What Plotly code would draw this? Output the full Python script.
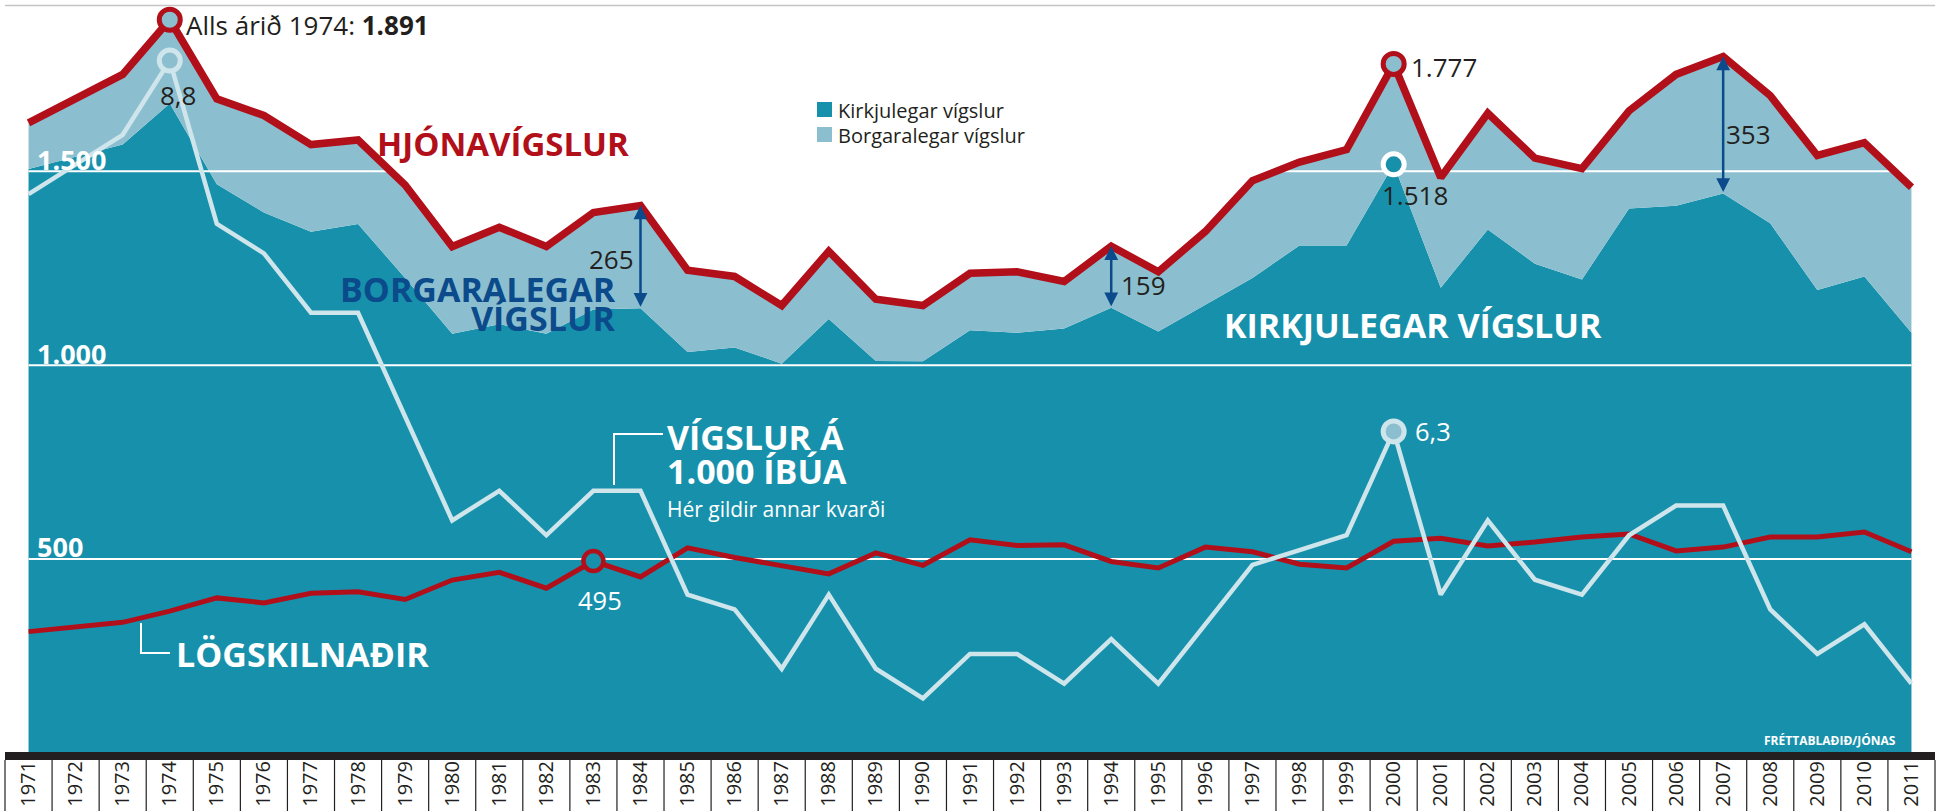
import plotly.graph_objects as go

# ---------------- data ----------------
years = list(range(1971, 2012))
year_labels = [str(y) for y in years]

# Hjónavígslur alls (total marriages)
hjonavigslur = [1625, 1687, 1750, 1891, 1687, 1644, 1569, 1581, 1465, 1306,
                1356, 1306, 1394, 1412, 1245, 1229, 1154, 1294, 1170, 1154,
                1237, 1241, 1216, 1307, 1241, 1345, 1476, 1524, 1556, 1777,
                1484, 1650, 1534, 1507, 1656, 1750, 1796, 1695, 1541, 1574,
                1459]
# Kirkjulegar vígslur (church marriages)
kirkjulegar = [1506, 1537, 1569, 1675, 1467, 1394, 1344, 1364, 1225, 1081,
               1106, 1081, 1144, 1147, 1034, 1046, 1004, 1119, 1011, 1010,
               1090, 1084, 1095, 1148, 1087, 1156, 1225, 1309, 1309, 1518,
               1200, 1350, 1262, 1221, 1404, 1411, 1443, 1366, 1194, 1229,
               1084]
# Lögskilnaðir (divorces)
logskilnadir = [313, 325, 337, 366, 400, 387, 412, 416, 396, 446,
                466, 425, 495, 454, 529, 504, 484, 462, 516, 484,
                550, 535, 537, 494, 477, 531, 519, 487, 477, 546,
                554, 534, 544, 557, 565, 521, 531, 557, 557, 570,
                519]
# Vígslur á 1.000 íbúa (marriages per 1,000 inhabitants, other scale)
vigslur_a_1000 = [7.9, 8.1, 8.3, 8.8, 7.7, 7.5, 7.1, 7.1, 6.4, 5.7,
                  5.9, 5.6, 5.9, 5.9, 5.2, 5.1, 4.7, 5.2, 4.7, 4.5,
                  4.8, 4.8, 4.6, 4.9, 4.6, 5.0, 5.4, 5.5, 5.6, 6.3,
                  5.2, 5.7, 5.3, 5.2, 5.6, 5.8, 5.8, 5.1, 4.8, 5.0,
                  4.6]

grid_values = [500, 1000, 1500]
grid_labels = ["500", "1.000", "1.500"]
gap_years = [1984, 1994, 2007]       # civil-marriage gaps marked with arrows
peak_years = [1974, 2000]            # highlighted peaks
divorce_mark_year = 1983

# ---------------- style ----------------
TEAL = "#1791ab"
LIGHT = "#8bbfcf"
RED = "#b10f19"
PALE = "#cfe5ec"
NAVY = "#0b4a8b"
DARK = "#231f20"
FONT = "Open Sans"
NARROW = "Liberation Sans Narrow, Open Sans"

W, H = 1953, 811
ML, MR, MT, MB = 5, 18, 5, 58
PW = W - ML - MR
PH = H - MT - MB
Y_RANGE = [0, 1929]
Y2_RANGE = [4.132, 9.175]


def xp(px):
    return (px - ML) / PW


def yp(py):
    return (H - MB - py) / PH


def idx(y):
    return years.index(y)


fig = go.Figure()

# stacked areas
fig.add_trace(go.Scatter(x=years, y=kirkjulegar, mode="lines",
                         line=dict(width=0, color=TEAL),
                         fill="tozeroy", fillcolor=TEAL))
fig.add_trace(go.Scatter(x=years, y=hjonavigslur, mode="lines",
                         line=dict(width=0, color=LIGHT),
                         fill="tonexty", fillcolor=LIGHT))

# white grid lines across the area
for v in grid_values:
    fig.add_trace(go.Scatter(x=[years[0], years[-1]], y=[v, v], mode="lines",
                             line=dict(color="white", width=2)))

# per-1000 line (own scale)
fig.add_trace(go.Scatter(x=years, y=vigslur_a_1000, yaxis="y2", mode="lines",
                         line=dict(color=PALE, width=4.5)))
# divorces
fig.add_trace(go.Scatter(x=years, y=logskilnadir, mode="lines",
                         line=dict(color=RED, width=5)))
# total marriages
fig.add_trace(go.Scatter(x=years, y=hjonavigslur, mode="lines",
                         line=dict(color=RED, width=7.5)))

# highlighted points
fig.add_trace(go.Scatter(x=peak_years,
                         y=[vigslur_a_1000[idx(y)] for y in peak_years],
                         yaxis="y2", mode="markers",
                         marker=dict(size=21, color=LIGHT,
                                     line=dict(color=PALE, width=5))))
fig.add_trace(go.Scatter(x=peak_years,
                         y=[hjonavigslur[idx(y)] for y in peak_years],
                         mode="markers",
                         marker=dict(size=21, color=LIGHT,
                                     line=dict(color=RED, width=5))))
fig.add_trace(go.Scatter(x=[2000], y=[kirkjulegar[idx(2000)]],
                         mode="markers",
                         marker=dict(size=21, color=TEAL,
                                     line=dict(color="white", width=5))))
fig.add_trace(go.Scatter(x=[divorce_mark_year],
                         y=[logskilnadir[idx(divorce_mark_year)]],
                         mode="markers",
                         marker=dict(size=20, color=TEAL,
                                     line=dict(color=RED, width=4.5))))

annotations = []


def label(text, px, py, size, color, anchor="left", bold=False):
    t = f"<b>{text}</b>" if bold else text
    annotations.append(dict(text=t, xref="paper", yref="paper",
                            x=xp(px), y=yp(py + 0.05 * size),
                            xanchor=anchor, yanchor="middle",
                            showarrow=False,
                            font=dict(family=FONT, size=size, color=color)))


label("Alls árið 1974: <b>1.891</b>", 184, 24, 26, DARK)
label("8,8", 178, 94, 26, DARK, anchor="center")
label("HJÓNAVÍGSLUR", 375, 142, 33, RED, bold=True)
label("BORGARALEGAR", 618, 287, 34, NAVY, anchor="right", bold=True)
label("VÍGSLUR", 618, 316, 34, NAVY, anchor="right", bold=True)
label("1.777", 1409, 66, 26, DARK)
label("1.518", 1380, 194, 26, DARK)
label("6,3", 1413, 430, 25.5, "white")
label("495", 576, 599, 25.5, "white")
label("VÍGSLUR Á", 665, 435, 34, "white", bold=True)
label("1.000 ÍBÚA", 665, 469, 34, "white", bold=True)
label("Hér gildir annar kvarði", 665, 508, 21, "white")
label("LÖGSKILNAÐIR", 174, 652, 34, "white", bold=True)
label("KIRKJULEGAR VÍGSLUR", 1222, 323, 34, "white", bold=True)
for gl, gy in zip(grid_labels, [545, 352, 158]):
    label(gl, 35, gy, 27, "white", bold=True)
label("FRÉTTABLAÐIÐ/JÓNAS", 1898, 740, 12, "white", anchor="right", bold=True)
label("Kirkjulegar vígslur", 836, 109, 20, DARK)
label("Borgaralegar vígslur", 836, 134, 20, DARK)

# gap arrows + their numbers
gap_text_pos = {1984: (587, 258), 1994: (1119, 284), 2007: (1724, 133)}
for gy in gap_years:
    i = idx(gy)
    annotations.append(dict(x=gy, y=hjonavigslur[i], ax=gy, ay=kirkjulegar[i],
                            xref="x", yref="y", axref="x", ayref="y",
                            text="", showarrow=True, arrowhead=2,
                            arrowside="end+start", arrowsize=1.1,
                            arrowwidth=2.5, arrowcolor=NAVY,
                            standoff=0, startstandoff=0))
    px, py = gap_text_pos[gy]
    label(str(hjonavigslur[i] - kirkjulegar[i]), px, py, 26, DARK)

shapes = []
# top rule
shapes.append(dict(type="line", xref="paper", yref="paper", x0=0, x1=1,
                   y0=yp(5.5), y1=yp(5.5), line=dict(color="#c4c4c4", width=1.5)))
# black axis bar
shapes.append(dict(type="rect", xref="paper", yref="paper", x0=0, x1=1,
                   y0=yp(760), y1=yp(752), fillcolor=DARK, line=dict(width=0),
                   layer="above"))
# year cell dividers
n = len(years)
for k in range(n + 1):
    shapes.append(dict(type="line", xref="paper", yref="paper",
                       x0=k / n, x1=k / n, y0=yp(811), y1=yp(760),
                       line=dict(color=DARK, width=1.2)))
# connectors
shapes.append(dict(type="path", xref="paper", yref="paper",
                   path=f"M {xp(614)},{yp(485)} L {xp(614)},{yp(434)} L {xp(663)},{yp(434)}",
                   line=dict(color="white", width=2), layer="above"))
shapes.append(dict(type="path", xref="paper", yref="paper",
                   path=f"M {xp(141)},{yp(623)} L {xp(141)},{yp(653)} L {xp(170)},{yp(653)}",
                   line=dict(color="white", width=2), layer="above"))
# legend swatches
shapes.append(dict(type="rect", xref="paper", yref="paper",
                   x0=xp(817), x1=xp(832), y0=yp(117), y1=yp(102),
                   fillcolor=TEAL, line=dict(width=0)))
shapes.append(dict(type="rect", xref="paper", yref="paper",
                   x0=xp(817), x1=xp(832), y0=yp(142), y1=yp(127),
                   fillcolor=LIGHT, line=dict(width=0)))

fig.update_layout(
    width=W, height=H,
    margin=dict(l=ML, r=MR, t=MT, b=MB, autoexpand=False),
    paper_bgcolor="white", plot_bgcolor="white",
    showlegend=False,
    font=dict(family=FONT, color=DARK),
    xaxis=dict(range=[years[0] - 0.5, years[-1] + 0.5], tickvals=years,
               ticktext=year_labels, tickangle=-90, ticks="",
               ticklabelstandoff=3, automargin=False,
               tickfont=dict(family=NARROW, size=20, color=DARK),
               showgrid=False, zeroline=False, showline=False, fixedrange=True),
    yaxis=dict(range=Y_RANGE, visible=False, fixedrange=True, automargin=False),
    yaxis2=dict(range=Y2_RANGE, overlaying="y", visible=False,
                fixedrange=True, automargin=False),
    annotations=annotations,
    shapes=shapes,
)

fig.write_html("out.html",
               config={"displayModeBar": False},
               post_script="document.body.style.margin='0';"
                           "document.body.style.overflow='hidden';")
